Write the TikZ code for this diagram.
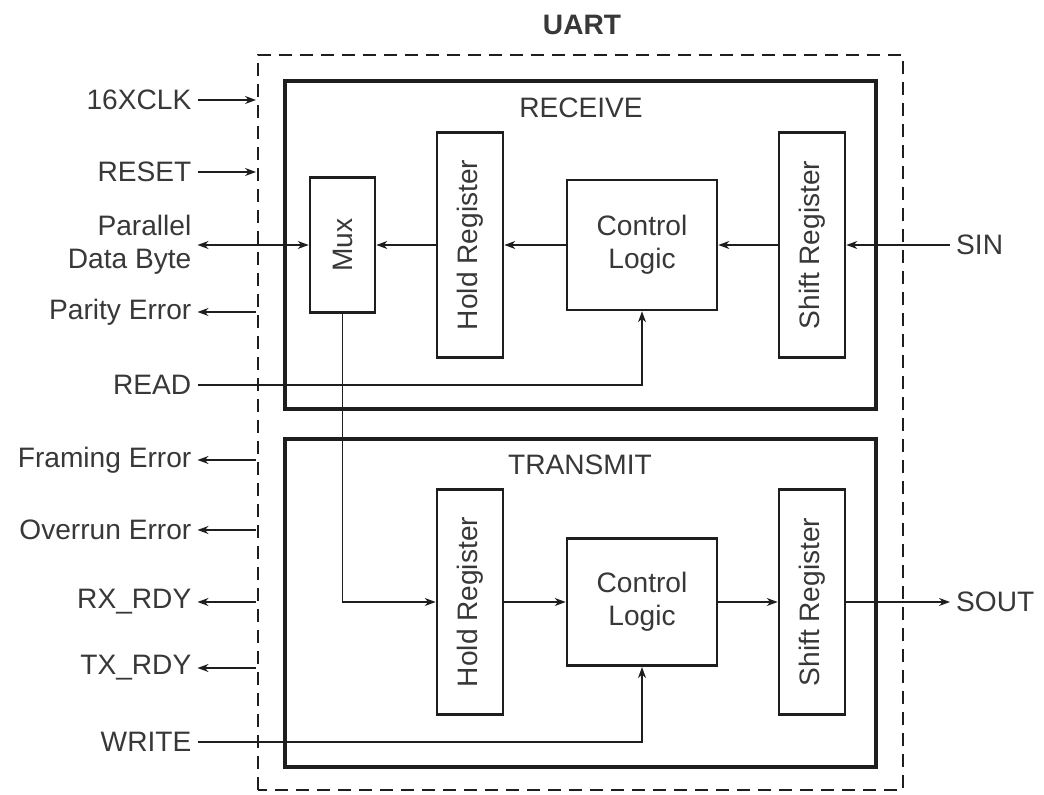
\documentclass[tikz,border=0pt]{standalone}
\usepackage{fontspec}
\usepackage{graphicx}
\setmainfont{Liberation Sans}
\usetikzlibrary{arrows.meta,positioning,calc}
\definecolor{inkline}{HTML}{1E1E1E}
\definecolor{inktext}{HTML}{383838}
\tikzset{
  blk/.style={draw=inkline, line width=1.5pt, inner sep=0pt, align=center, text=inktext},
  frame/.style={draw=inkline, line width=1.8pt},
  sig/.style={draw=inkline, line width=0.8pt, -{Stealth[length=2.2mm,width=1.6mm]}},
  pin/.style={text=inktext, align=right},
}

\begin{document}
\begin{tikzpicture}[font=\fontsize{16}{19}\selectfont]
\useasboundingbox[fill=white] (0,0) rectangle (20.88,15.88);
% UART outline
\draw[inkline, line width=1pt, dash pattern=on 0.26cm off 0.16cm] (5.16,0.08) rectangle (18.06,14.78);
\node[font=\fontsize{16}{19}\selectfont\bfseries, text=inktext] (uart) at (11.64,15.38) {UART};
\coordinate (edge) at (5.12,0);
% Receive side
\draw[frame] (5.70,7.70) rectangle (17.52,14.26);
\node[text=inktext] (rxtitle) at (11.62,13.72) {RECEIVE};
\node[blk, minimum width=1.3cm, minimum height=2.7cm] (mux) at (6.85,10.98) {\rotatebox{90}{Mux}};
\node[blk, minimum width=1.32cm, minimum height=4.5cm] (rxhold) at (9.40,10.98) {\rotatebox{90}{Hold Register}};
\node[blk, minimum width=3cm, minimum height=2.6cm] (rxctl) at (12.84,10.98) {Control\\Logic};
\node[blk, minimum width=1.32cm, minimum height=4.5cm] (rxshift) at (16.24,10.98) {\rotatebox{90}{Shift Register}};
% Transmit side
\draw[frame] (5.70,0.54) rectangle (17.52,7.10);
\node[text=inktext] (txtitle) at (11.60,6.58) {TRANSMIT};
\node[blk, minimum width=1.32cm, minimum height=4.5cm] (txhold) at (9.40,3.84) {\rotatebox{90}{Hold Register}};
\node[blk, minimum width=3cm, minimum height=2.55cm] (txctl) at (12.84,3.84) {Control\\Logic};
\node[blk, minimum width=1.32cm, minimum height=4.5cm] (txshift) at (16.24,3.84) {\rotatebox{90}{Shift Register}};
% pins
\node[pin, anchor=east] (clk) at (3.95,13.88) {16XCLK};
\node[pin, anchor=east] (rst) at (3.95,12.44) {RESET};
\node[pin, anchor=east] (pdb) at (3.95,10.98) {Parallel\\Data Byte};
\node[pin, anchor=east] (perr) at (3.95,9.64) {Parity Error};
\node[pin, anchor=east] (rd) at (3.95,8.18) {READ};
\node[pin, anchor=east] (ferr) at (3.95,6.68) {Framing Error};
\node[pin, anchor=east] (oerr) at (3.95,5.28) {Overrun Error};
\node[pin, anchor=east] (rxrdy) at (3.95,3.84) {RX\_RDY};
\node[pin, anchor=east] (txrdy) at (3.95,2.52) {TX\_RDY};
\node[pin, anchor=east] (wr) at (3.95,1.04) {WRITE};
\node[pin, anchor=west] (sin) at (19.0,10.98) {SIN};
\node[pin, anchor=west] (sout) at (19.0,3.84) {SOUT};
% signals
\draw[sig] (clk.east) -- (clk.east -| edge);
\draw[sig] (rst.east) -- (rst.east -| edge);
\draw[sig, {Stealth[length=2.2mm,width=1.6mm]}-{Stealth[length=2.2mm,width=1.6mm]}] (pdb.east) -- (mux.west);
\draw[sig] (perr.east -| edge) -- (perr.east);
\draw[sig] (rd.east) -| (rxctl.south);
\draw[sig] (ferr.east -| edge) -- (ferr.east);
\draw[sig] (oerr.east -| edge) -- (oerr.east);
\draw[sig] (rxrdy.east -| edge) -- (rxrdy.east);
\draw[sig] (txrdy.east -| edge) -- (txrdy.east);
\draw[sig] (wr.east) -| (txctl.south);
\draw[sig] (sin.west) -- (rxshift.east);
\draw[sig] (rxshift.west) -- (rxctl.east);
\draw[sig] (rxctl.west) -- (rxhold.east);
\draw[sig] (rxhold.west) -- (mux.east);
\draw[sig] (mux.south) |- (txhold.west);
\draw[sig] (txhold.east) -- (txctl.west);
\draw[sig] (txctl.east) -- (txshift.west);
\draw[sig] (txshift.east) -- (sout.west);
\end{tikzpicture}
\end{document}
